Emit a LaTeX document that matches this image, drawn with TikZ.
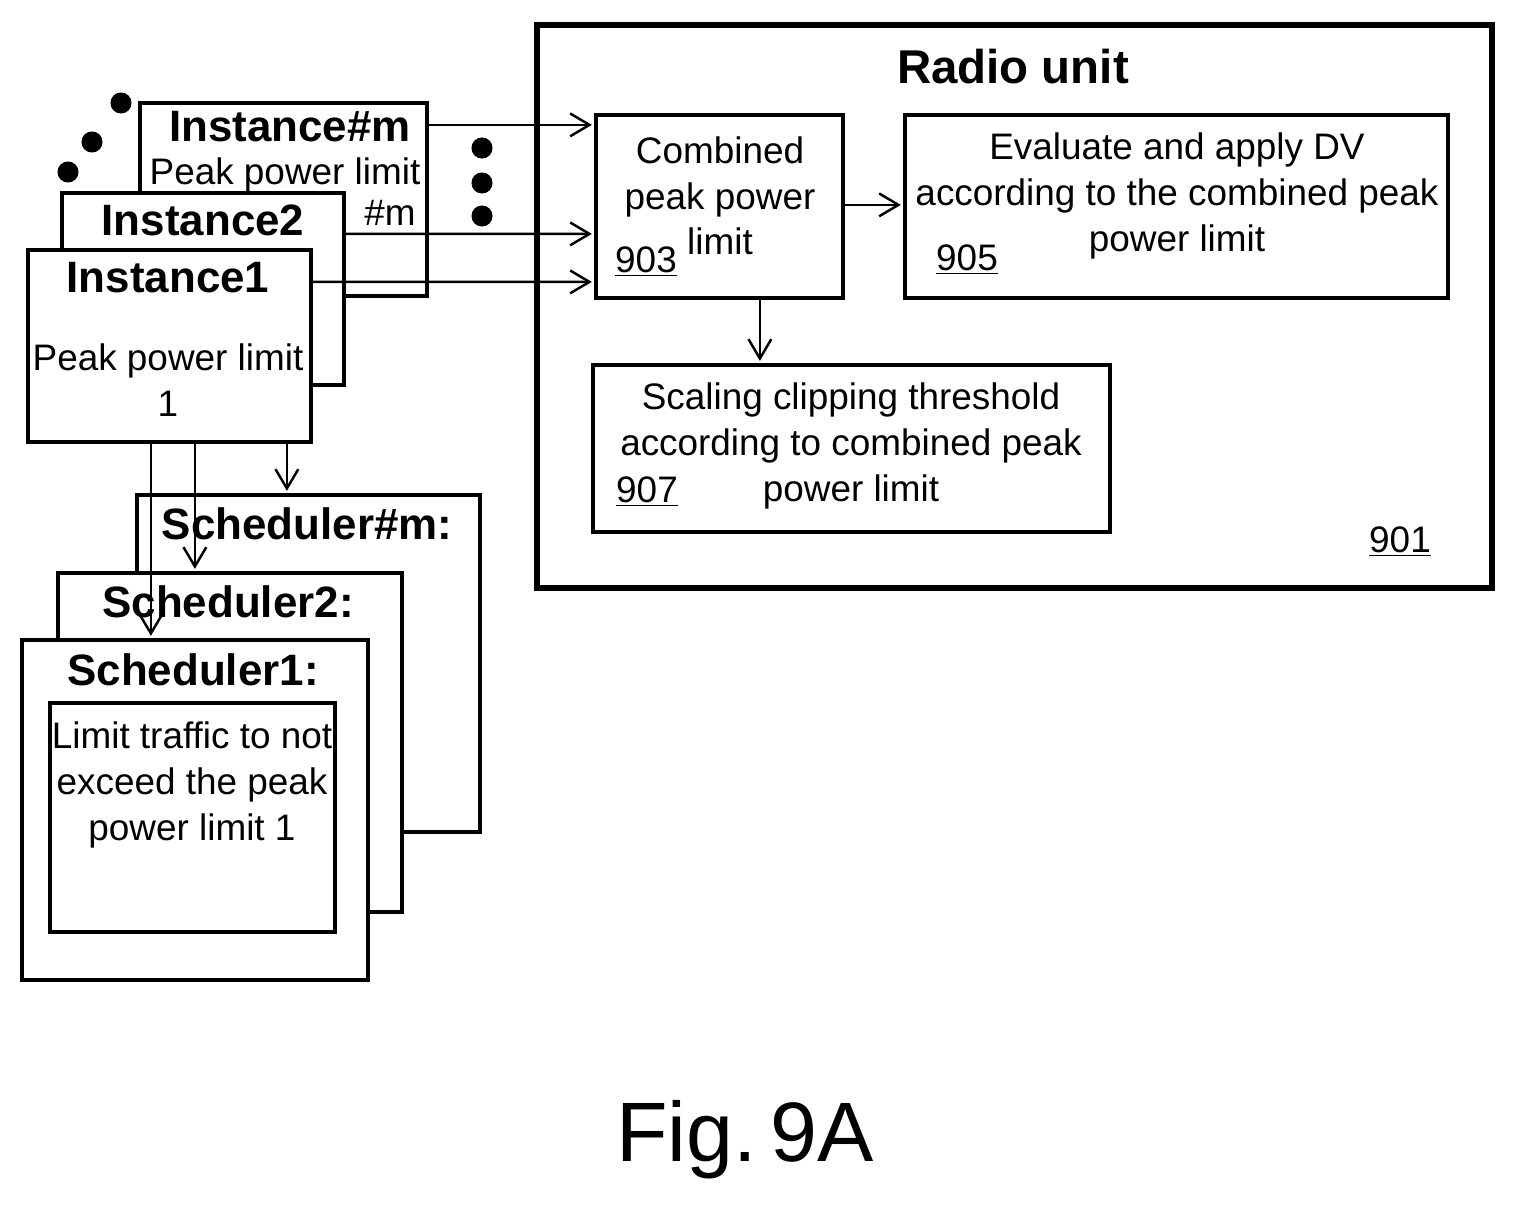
\documentclass[tikz,border=0pt]{standalone}
\usepackage{fontspec}
\setmainfont{Liberation Sans}
\usetikzlibrary{arrows.meta, fit, calc}
\tikzstyle{box} = [rectangle, draw=black, line width=2.4pt, fill=white, inner sep=0pt]
\tikzstyle{outer} = [rectangle, draw=black, line width=3.4pt, inner sep=0pt]
\tikzstyle{txt} = [font=\fontsize{21}{26}\selectfont, align=center, inner sep=0pt]
\tikzstyle{head} = [font=\fontsize{25}{28}\selectfont\bfseries, inner sep=0pt]
\tikzstyle{arrow} = [line width=1.4pt, -{Straight Barb[length=11pt,width=13pt]}]
\tikzstyle{dot} = [circle, fill=black, inner sep=0pt, minimum size=12pt]

\begin{document}
\begin{tikzpicture}[x=0.02cm, y=-0.02cm]
    \useasboundingbox (0,0) rectangle (1516,1209);
    %radio unit
    \node (radio) [outer, fit={(537,25) (1492,588)}] {};
    \node (radiot) [head, font=\fontsize{27}{30}\selectfont\bfseries] at (1013,67) {Radio unit};
    \node (cmb) [box, fit={(596,115) (843,298)}] {};
    \node (cmbt) [txt] at (720,196) {Combined\\peak power\\limit};
    \node (n903) [txt] at (646,262) {\underline{903}};
    \node (eval) [box, fit={(905,115) (1448,298)}] {};
    \node (evalt) [txt] at (1177,196) {Evaluate and apply DV\\according to the combined peak\\power limit};
    \node (n905) [txt] at (967,260) {\underline{905}};
    \node (scal) [box, fit={(593,365) (1110,532)}] {};
    \node (scalt) [txt] at (851,446) {Scaling clipping threshold\\according to combined peak\\power limit};
    \node (n907) [txt] at (647,492) {\underline{907}};
    \node (n901) [txt] at (1400,542) {\underline{901}};

    %instances
    \node (instm) [box, fit={(140,103) (427,296)}] {};
    \node (instmt) [head] at (290,127) {Instance\#m};
    \node (instmp) [txt] at (285,175) {Peak power limit};
    \node (instmn) [txt] at (390,213) {\#m};
    \node (inst2) [box, fit={(62,193) (344,385)}] {};
    \node (inst2t) [head] at (203,220) {Instance2};
    \node (inst1) [box, fit={(28,250) (311,442)}] {};
    \node (inst1t) [head] at (168,278) {Instance1};
    \node (inst1p) [txt] at (168,380) {Peak power limit\\1};

    %dots
    \node (d1) [dot] at (68,172) {};
    \node (d2) [dot] at (92,142) {};
    \node (d3) [dot] at (121,103) {};
    \node (d4) [dot] at (482,148) {};
    \node (d5) [dot] at (482,183) {};
    \node (d6) [dot] at (482,216) {};

    %schedulers
    \node (schm) [box, fit={(137,495) (480,832)}] {};
    \node (schmt) [head] at (307,524) {Scheduler\#m:};
    \node (sch2) [box, fit={(58,573) (402,912)}] {};
    \node (sch2t) [head] at (228,602) {Scheduler2:};
    \node (sch1) [box, fit={(22,640) (368,980)}] {};
    \node (sch1t) [head] at (193,670) {Scheduler1:};
    \node (lim) [box, fit={(50,703) (335,932)}] {};
    \node (limt) [txt] at (192,785) {Limit traffic to not\\exceed the peak\\power limit 1};

    \node (fig) [font=\fontsize{48}{52}\selectfont, inner sep=0pt] at (745,1140) {Fig.\,9A};

    %arrows
    \draw [arrow] ($(instm.north east)+(0,24)$) -- ($(cmb.north west)+(-2,12)$);
    \draw [arrow] ($(inst2.north east)+(0,43)$) -- ($(cmb.north west)+(-2,121)$);
    \draw [arrow] ($(inst1.north east)+(0,34)$) -- ($(cmb.north west)+(-2,169)$);
    \draw [arrow] ($(cmb.north east)+(0,92)$) -- ($(eval.north west)+(-2,92)$);
    \draw [arrow] ($(cmb.south west)+(166,0)$) -- ($(scal.north west)+(169,-2)$);
    \draw [arrow] ($(inst1.south west)+(125,0)$) -- ($(sch1.north west)+(131,-2)$);
    \draw [arrow] ($(inst1.south west)+(169,0)$) -- ($(sch2.north west)+(139,-2)$);
    \draw [arrow] ($(inst1.south west)+(261,0)$) -- ($(schm.north west)+(152,-2)$);
\end{tikzpicture}
\end{document}
